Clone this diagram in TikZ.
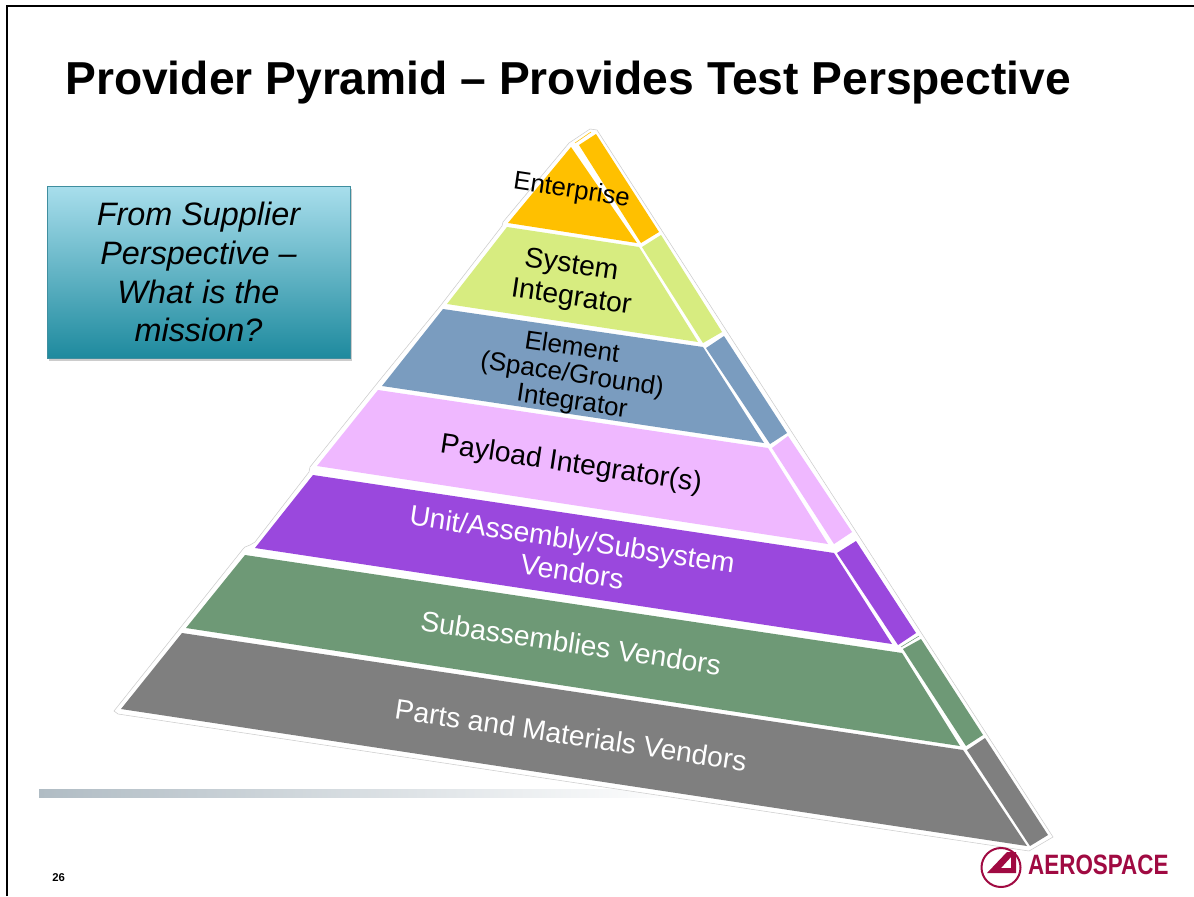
\documentclass[tikz,border=0pt]{standalone}
\usepackage{fontspec}
\setmainfont{Liberation Sans}
\usetikzlibrary{shadows}
\definecolor{enterprisecol}{HTML}{FFC000}
\definecolor{systemcol}{HTML}{D7EC80}
\definecolor{elementcol}{HTML}{7A9CBF}
\definecolor{payloadcol}{HTML}{EFB8FF}
\definecolor{unitcol}{HTML}{9A48DD}
\definecolor{subcol}{HTML}{6E9976}
\definecolor{partscol}{HTML}{7F7F7F}
\definecolor{logocol}{HTML}{A00A42}
\definecolor{barcol}{HTML}{B0BCC4}
\definecolor{boxtop}{HTML}{A8DEEC}
\definecolor{boxbottom}{HTML}{1E8A9E}
\definecolor{boxline}{HTML}{3F8E9F}
\begin{document}
\begin{tikzpicture}[x=0.75pt,y=-0.75pt]
\useasboundingbox (0,0) rectangle (1194,896);
\fill[white] (0,0) rectangle (1194,896);
\coordinate (framea) at (7,896);
\coordinate (frameb) at (7,6);
\coordinate (framec) at (1194,6);
\draw[line width=1.5pt] (framea) -- (frameb) -- (framec);
\node[anchor=base west,inner sep=0pt,font=\bfseries\fontsize{34.65}{36}\selectfont] (title) at (65,94) {Provider Pyramid – Provides Test Perspective};

% bar behind the pyramid
\fill[left color=barcol,middle color=barcol!90!white,right color=white,draw=none] (39,789) rectangle (680,797);

% outline
\draw[fill=white,draw=black!20,line width=0.4pt] (569,143) -- (590,129) -- (597,130) -- (1053,837) -- (1029,851) -- (118,714) -- (114,711) -- (243,549) -- (245,547) -- (250,545) -- (255,542) -- (309,472) -- (310,467) -- (379,381) -- (441,305) -- (502,226) -- (503,222) -- cycle;

% front faces
\fill[enterprisecol] (571,147) -- (508,223) -- (637,243) -- cycle;
\fill[systemcol] (507,227) -- (639,247) -- (698,342) -- (447,304) -- cycle;
\fill[elementcol] (443,309) -- (703,347) -- (764,443) -- (382,386) -- cycle;
\fill[payloadcol] (378,390) -- (768,448) -- (828,544) -- (317,466) -- cycle;
\fill[unitcol] (313,475) -- (834,553) -- (892,644) -- (255,548) -- cycle;
\fill[subcol] (245,555) -- (902,653) -- (960,746) -- (186,628) -- cycle;
\fill[partscol] (182,633) -- (963,750) -- (1027,846) -- (121,709) -- cycle;

% side faces
\fill[enterprisecol] (596,134) -- (579,145) -- (641,243) -- (659,232) -- cycle;
\fill[systemcol] (642,247) -- (661,235) -- (722,332) -- (703,343) -- cycle;
\fill[elementcol] (706,348) -- (724,336) -- (787,433) -- (770,444) -- cycle;
\fill[payloadcol] (772,448) -- (788,436) -- (852,532) -- (834,544) -- cycle;
\fill[unitcol] (837,553) -- (856,541) -- (916,633) -- (898,645) -- cycle;
\fill[subcol] (903,649) -- (921,639) -- (983,735) -- (966,746) -- cycle;
\fill[partscol] (967,750) -- (985,738) -- (1048,835) -- (1030,846) -- cycle;
\draw[enterprisecol,line width=0.4pt] (575,143) -- (591,132);
\draw[subcol,line width=0.4pt] (901,647) -- (919,636);

\begin{scope}[every node/.style={align=center,rotate=-8.5,inner sep=0pt,font=\fontsize{21.2}{24}\selectfont}]
    \node[font=\fontsize{19.3}{21}\selectfont] (enterprise) at (571.5,191) {Enterprise};
    \node (system) at (569,282) {System\\\hspace*{7pt}Integrator};
    \node[font=\fontsize{19.5}{20}\selectfont] (element) at (568,375) {Element\\\hspace*{6pt}(Space/Ground)\\\hspace*{12pt}Integrator};
    \node (payload) at (571,465) {Payload Integrator(s)};
    \node[text=white] (unit) at (570,555) {Unit/Assembly/Subsystem\\\hspace*{7pt}Vendors};
    \node[text=white] (sub) at (571,643) {Subassemblies Vendors};
    \node[text=white] (parts) at (571,735) {Parts and Materials Vendors};
\end{scope}

\node[draw=boxline,top color=boxtop,bottom color=boxbottom,drop shadow={opacity=0.4,shadow xshift=1.5pt,shadow yshift=-2pt},
  minimum width=227pt,minimum height=129pt,inner sep=0pt,align=center,
  font=\itshape\fontsize{24.3}{29.2}\selectfont] (mission) at (198.5,272) {From Supplier\\Perspective –\\What is the\\mission?};

\node[anchor=base west,inner sep=0pt,font=\bfseries\fontsize{8.5}{9}\selectfont] (page) at (52,881) {26};

% logo
\draw[logocol,line width=1.5pt] (1001,867.5) circle (19.5);
\fill[logocol,even odd rule] (987,873) -- (1007,852) -- (1016,852) -- (1016,873) -- cycle (1001,868) -- (1011,857) -- (1011,868) -- cycle;
\node[anchor=base west,inner sep=0pt,text=logocol,xscale=0.80,font=\bfseries\fontsize{21}{21}\selectfont] (logo) at (1028,874) {AEROSPACE};
\end{tikzpicture}
\end{document}
